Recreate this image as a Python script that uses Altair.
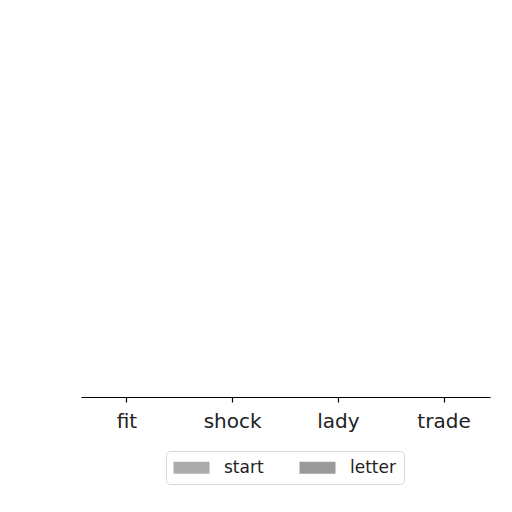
import altair as alt
import pandas as pd

categories = ["fit", "shock", "lady", "trade"]
series = ["start", "letter"]
start_values = [0, 0, 0, 0]
letter_values = [0, 0, 0, 0]
colors = ["#ababab", "#9a9a9a"]

rows = []
for c, s, l in zip(categories, start_values, letter_values):
    rows.append({"category": c, "series": "start", "value": s})
    rows.append({"category": c, "series": "letter", "value": l})
df = pd.DataFrame(rows)

chart = alt.Chart(df).mark_bar().encode(
    x=alt.X("category:N", sort=categories,
            scale=alt.Scale(type="band", paddingInner=0.2, paddingOuter=0.035),
            axis=alt.Axis(title=None, labelAngle=0, labelFontSize=20,
                          labelFont="DejaVu Sans", labelColor="#222222",
                          domainColor="#000000", domainWidth=1.2,
                          tickColor="#000000", tickSize=5, tickWidth=1.2,
                          labelPadding=9, grid=False)),
    xOffset=alt.XOffset("series:N", sort=series),
    y=alt.Y("value:Q", scale=alt.Scale(domain=[0, 1]), axis=None),
    color=alt.Color("series:N", sort=series,
                    scale=alt.Scale(domain=series, range=colors),
                    legend=alt.Legend(title=None, orient="none", direction="horizontal",
                                      columns=2, legendX=85, legendY=441,
                                      symbolType="M-3,-1H3V1H-3Z",
                                      symbolSize=144, symbolStrokeWidth=0,
                                      symbolOffset=9,
                                      labelFontSize=17, labelFont="DejaVu Sans",
                                      labelColor="#222222", labelOffset=24,
                                      columnPadding=35, padding=8,
                                      strokeColor="#d8d8d8", cornerRadius=4,
                                      fillColor="#ffffff")),
).properties(
    width=409, height=387,
    autosize=alt.AutoSizeParams(type="none"),
    padding={"left": 73, "top": 2, "right": 14, "bottom": 100},
).configure_view(stroke=None)

chart.save("out.html", embed_options={"renderer": "svg", "actions": False})
